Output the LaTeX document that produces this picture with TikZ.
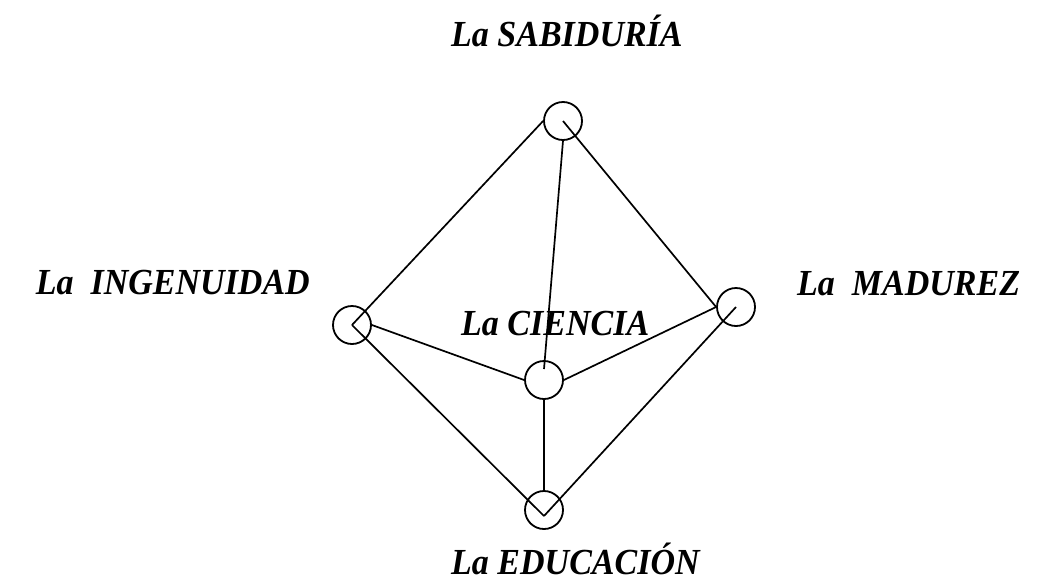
\documentclass[tikz,border=0pt]{standalone}
\usepackage{fontspec}
\setmainfont{Liberation Serif}
\begin{document}
\begin{tikzpicture}[x=1pt,y=-1pt,
  ring/.style={draw,circle,minimum size=38pt,inner sep=0pt,line width=1.8pt},
  edge/.style={line width=1.7pt},
  lbl/.style={font=\fontsize{34}{40}\selectfont\bfseries\itshape,inner sep=0pt}]
\useasboundingbox (0,0) rectangle (1047,584);
\node[ring] (T) at (563,121) {};
\node[ring] (L) at (352,325) {};
\node[ring] (R) at (736,307) {};
\node[ring] (C) at (544,380) {};
\node[ring] (B) at (544,510) {};
\coordinate (Ctop) at (544,369);
\coordinate (Bv) at (544,516);
\draw[edge] (T.west) -- (L.center);
\draw[edge] (T.center) -- (R.west);
\draw[edge] (T.south) -- (Ctop);
\draw[edge] (L.east) -- (C.west);
\draw[edge] (R.west) -- (C.east);
\draw[edge] (L.center) -- (Bv);
\draw[edge] (R.center) -- (Bv);
\draw[edge] (C.south) -- (B.north);
\node[lbl,anchor=base west] (sab) at (451,46) {\scalebox{1}[1.08]{La SABIDURÍA}};
\node[lbl,anchor=base east] (ing) at (310,294) {\scalebox{1}[1.08]{La~~INGENUIDAD}};
\node[lbl,anchor=base west] (mad) at (797,295) {\scalebox{1}[1.08]{La~~MADUREZ}};
\node[lbl,anchor=base west] (cie) at (461,335) {\scalebox{1}[1.08]{La CIENCIA}};
\node[lbl,anchor=base west] (edu) at (451,574) {\scalebox{1}[1.08]{La EDUCACIÓN}};
\end{tikzpicture}
\end{document}
